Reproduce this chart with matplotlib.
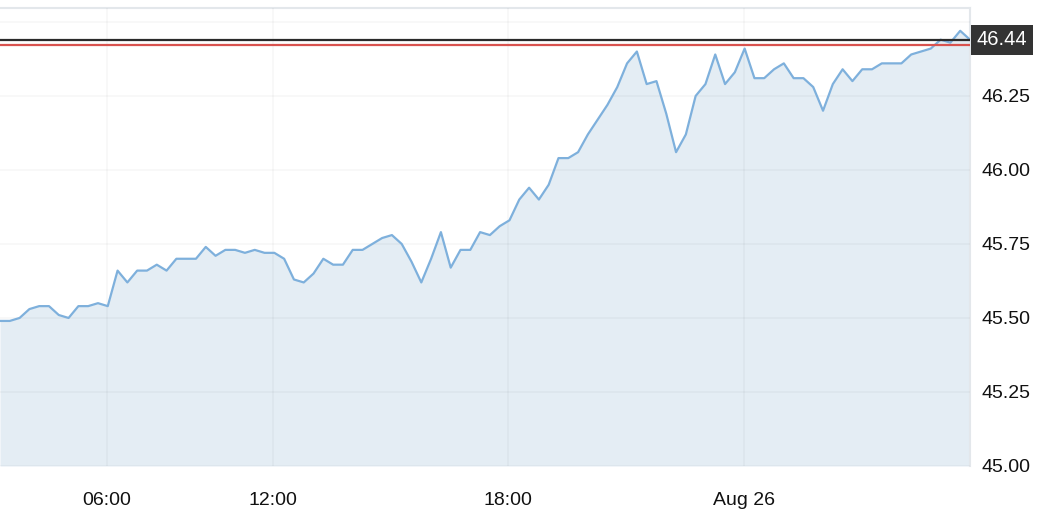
import numpy as np
import matplotlib
matplotlib.use('Agg')
import matplotlib.pyplot as plt
import matplotlib.transforms as mtransforms

plt.rcParams['font.family'] = ['Liberation Sans', 'DejaVu Sans']

# price, one value per interval
prices = [45.49, 45.49, 45.50, 45.53, 45.54, 45.54, 45.51, 45.50, 45.54, 45.54,
          45.55, 45.54, 45.66, 45.62, 45.66, 45.66, 45.68, 45.66, 45.70, 45.70,
          45.70, 45.74, 45.71, 45.73, 45.73, 45.72, 45.73, 45.72, 45.72, 45.70,
          45.63, 45.62, 45.65, 45.70, 45.68, 45.68, 45.73, 45.73, 45.75, 45.77,
          45.78, 45.75, 45.69, 45.62, 45.70, 45.79, 45.67, 45.73, 45.73, 45.79,
          45.78, 45.81, 45.83, 45.90, 45.94, 45.90, 45.95, 46.04, 46.04, 46.06,
          46.12, 46.17, 46.22, 46.28, 46.36, 46.40, 46.29, 46.30, 46.19, 46.06,
          46.12, 46.25, 46.29, 46.39, 46.29, 46.33, 46.41, 46.31, 46.31, 46.34,
          46.36, 46.31, 46.31, 46.28, 46.20, 46.29, 46.34, 46.30, 46.34, 46.34,
          46.36, 46.36, 46.36, 46.39, 46.40, 46.41, 46.44, 46.43, 46.47, 46.44]

tick_idx = [10.9, 27.9, 51.8, 75.9]
tick_labels = ['06:00', '12:00', '18:00', 'Aug 26']

ytick_vals = [45.00, 45.25, 45.50, 45.75, 46.00, 46.25, 46.50]
last_price = 46.44
ref_price = 46.423

x = np.arange(len(prices))

fig = plt.figure(figsize=(10.48, 5.26), dpi=100)
ax = fig.add_axes([0, 60 / 526, 970 / 1048, 457.7 / 526])

ax.fill_between(x, prices, 45.0, color='#e4edf4', lw=0, zorder=1)
ax.plot(x, prices, color='#7eb0dc', lw=1.6, zorder=3)

ax.axhline(last_price, color='#2b2b2b', lw=1.6, zorder=4)
ax.axhline(ref_price, color='#d9534f', lw=1.6, zorder=4)

ax.set_xlim(0, len(prices) - 1)
ax.set_ylim(45.0, 46.546)

ax.set_xticks(tick_idx)
ax.set_xticklabels(tick_labels, fontsize=14, color='#111111')
ax.set_yticks(ytick_vals)
ax.set_yticklabels(['%.2f' % v if v < 46.4 else '' for v in ytick_vals],
                   fontsize=14, color='#111111')
ax.yaxis.tick_right()
ax.tick_params(axis='both', length=0)
ax.tick_params(axis='y', pad=8)
ax.tick_params(axis='x', pad=19)

ax.grid(True, color='black', alpha=0.03, lw=1.2, zorder=2)
ax.set_axisbelow(False)

for side in ['left', 'bottom']:
    ax.spines[side].set_visible(False)
for side in ['top', 'right']:
    ax.spines[side].set_color('#e3e7eb')
    ax.spines[side].set_linewidth(1.5)

trans = mtransforms.blended_transform_factory(ax.transAxes, ax.transData)
ax.annotate('%.2f' % last_price, xy=(1.0, last_price), xycoords=trans,
            xytext=(4.5, 0), textcoords='offset points',
            ha='left', va='center', fontsize=14.5, color='white',
            annotation_clip=False,
            bbox=dict(boxstyle='square,pad=0.28', fc='#333333', ec='none'))

fig.savefig('out.png', dpi=100)
